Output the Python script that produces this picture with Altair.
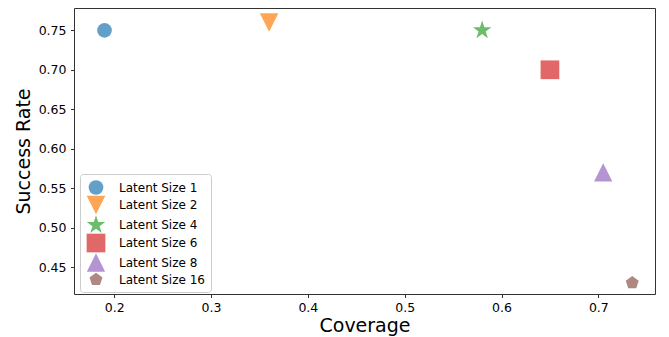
import altair as alt
import pandas as pd

labels = ["Latent Size 1", "Latent Size 2", "Latent Size 4",
          "Latent Size 6", "Latent Size 8", "Latent Size 16"]
coverage = [0.19, 0.36, 0.58, 0.65, 0.705, 0.735]
success_rate = [0.75, 0.76, 0.75, 0.70, 0.57, 0.43]

x_ticks = [0.2, 0.3, 0.4, 0.5, 0.6, 0.7]
y_ticks = [0.45, 0.50, 0.55, 0.60, 0.65, 0.70, 0.75]

# styles
colors = ["#1f77b4", "#ff7f0e", "#2ca02c", "#d62728", "#9467bd", "#8c564b"]
shapes = [
    "circle",
    "M-1,-1L1,-1L0,1Z",
    "M0,-1L0.2245,-0.309L0.9511,-0.309L0.3633,0.118L0.5878,0.809L0,0.382L-0.5878,0.809L-0.3633,0.118L-0.9511,-0.309L-0.2245,-0.309Z",
    "square",
    "M0,-1L1,1L-1,1Z",
    "M0,-1L0.9511,-0.309L0.5878,0.809L-0.5878,0.809L-0.9511,-0.309Z",
]
sizes = [216, 345, 380, 350, 335, 185]

df = pd.DataFrame({"label": labels, "Coverage": coverage, "Success Rate": success_rate})

FONT = "DejaVu Sans"

leg = alt.Legend(title=None, orient="none", legendX=6, legendY=166)

chart = alt.Chart(df).mark_point(filled=True, opacity=0.7, strokeWidth=0).encode(
    x=alt.X("Coverage:Q",
            scale=alt.Scale(domain=[0.1585, 0.7585], nice=False, zero=False),
            axis=alt.Axis(values=x_ticks, format=".1f", title="Coverage",
                          titleY=37, titleBaseline="alphabetic",
                          labelBaseline="alphabetic", labelPadding=13.5)),
    y=alt.Y("Success Rate:Q",
            scale=alt.Scale(domain=[0.4158, 0.7783], nice=False, zero=False),
            axis=alt.Axis(values=y_ticks, format=".2f", title="Success Rate",
                          titleX=-45, titleBaseline="alphabetic",
                          labelPadding=4.5)),
    color=alt.Color("label:N", sort=labels,
                    scale=alt.Scale(domain=labels, range=colors), legend=leg),
    shape=alt.Shape("label:N", sort=labels,
                    scale=alt.Scale(domain=labels, range=shapes), legend=leg),
    size=alt.Size("label:N", sort=labels,
                  scale=alt.Scale(type="ordinal", domain=labels, range=sizes),
                  legend=leg),
).properties(
    width=581, height=286,
    padding={"left": 66, "top": 0, "right": 6, "bottom": 42},
    autosize=alt.AutoSizeParams(type="none"),
).configure_view(
    stroke="#333333", strokeWidth=1
).configure_axis(
    grid=False, domain=False,
    labelFont=FONT, labelFontSize=12.5, labelColor="black",
    titleFont=FONT, titleFontSize=19, titleFontWeight="normal", titleColor="black",
    tickColor="#333333", tickSize=3.5, tickWidth=1,
).configure_legend(
    labelFont=FONT, labelFontSize=12, labelColor="black",
    padding=6, rowPadding=0.5, labelOffset=13,
    strokeColor="#cccccc", cornerRadius=3, fillColor="rgba(255,255,255,0.8)",
    symbolOpacity=0.7, symbolStrokeWidth=0,
)

chart.save("out.html", embed_options={"renderer": "svg", "actions": False})
